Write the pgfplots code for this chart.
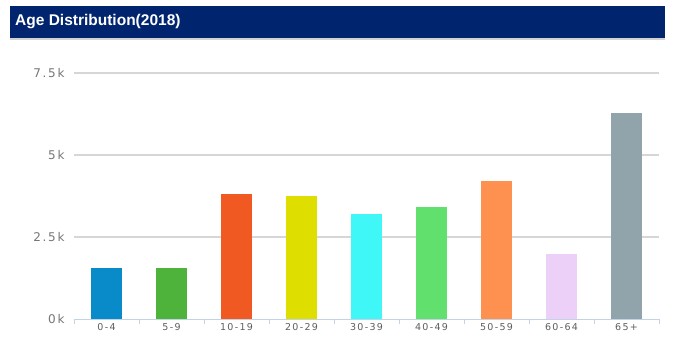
\documentclass[border=0pt]{standalone}
\usepackage{fontspec}
\usepackage{pgfplots}
\pgfplotsset{compat=1.18}
\setmainfont{Liberation Sans}
\newfontfamily\tickfont[LetterSpace=14]{DejaVu Sans}

\definecolor{navy}{HTML}{00246E}
\definecolor{gridgray}{HTML}{D6D6D6}
\definecolor{axisblue}{HTML}{C3D3E6}
\definecolor{labelgray}{HTML}{5E5E5E}
\definecolor{c1}{HTML}{0A8BC9}
\definecolor{c2}{HTML}{4DB33A}
\definecolor{c3}{HTML}{F05A22}
\definecolor{c4}{HTML}{DEDE00}
\definecolor{c5}{HTML}{40F7F7}
\definecolor{c6}{HTML}{62E06E}
\definecolor{c7}{HTML}{FF9150}
\definecolor{c8}{HTML}{EDD0F8}
\definecolor{c9}{HTML}{91A4AC}

\begin{document}
\begin{tikzpicture}
\path[use as bounding box] (-74pt,-23.7pt) rectangle (602pt,319.3pt);
\fill[white] (-74pt,-23.7pt) rectangle (602pt,319.3pt);
\begin{axis}[
  at={(0,0)}, anchor=south west,
  scale only axis,
  width=585pt, height=246.3pt,
  xmin=-0.5, xmax=8.5,
  ymin=0, ymax=7500,
  ybar, bar width=31pt, bar shift=0pt,
  axis x line*=bottom, axis y line*=left,
  x axis line style={draw=axisblue, line width=0.8pt, -},
  y axis line style={draw=none},
  xtick={0,...,8},
  xticklabels={0-4,5-9,10-19,20-29,30-39,40-49,50-59,60-64,65+},
  minor xtick={-0.5,0.5,...,8.5},
  major tick length=0pt,
  minor tick length=5pt,
  tick align=outside,
  minor x tick style={draw=axisblue, line width=0.8pt},
  ytick={0,2500,5000,7500},
  yticklabels={0k,2.5k,5k,7.5k},
  ymajorgrids,
  major grid style={draw=gridgray, line width=1.5pt},
  xticklabel style={font=\tickfont\fontsize{9.5}{11}\selectfont, text=labelgray, yshift=-1pt},
  yticklabel style={font=\tickfont\fontsize{12}{14}\selectfont, text=labelgray!85, anchor=east, xshift=-6pt},
  every axis plot/.append style={draw=none},
]
\addplot[fill=c1] coordinates {(0,1550)};
\addplot[fill=c2] coordinates {(1,1550)};
\addplot[fill=c3] coordinates {(2,3810)};
\addplot[fill=c4] coordinates {(3,3760)};
\addplot[fill=c5] coordinates {(4,3195)};
\addplot[fill=c6] coordinates {(5,3415)};
\addplot[fill=c7] coordinates {(6,4225)};
\addplot[fill=c8] coordinates {(7,1975)};
\addplot[fill=c9] coordinates {(8,6285)};
\end{axis}
% header band
\fill[gray!35] (-64pt,279.6pt) rectangle (591pt,281.6pt);
\fill[navy] (-64pt,281.6pt) rectangle (591pt,313.3pt);
\node[anchor=west, text=white, font=\bfseries\fontsize{15.5}{18}\selectfont, inner sep=0pt]
  at (-59pt,297.5pt) {Age Distribution(2018)};
\end{tikzpicture}
\end{document}
